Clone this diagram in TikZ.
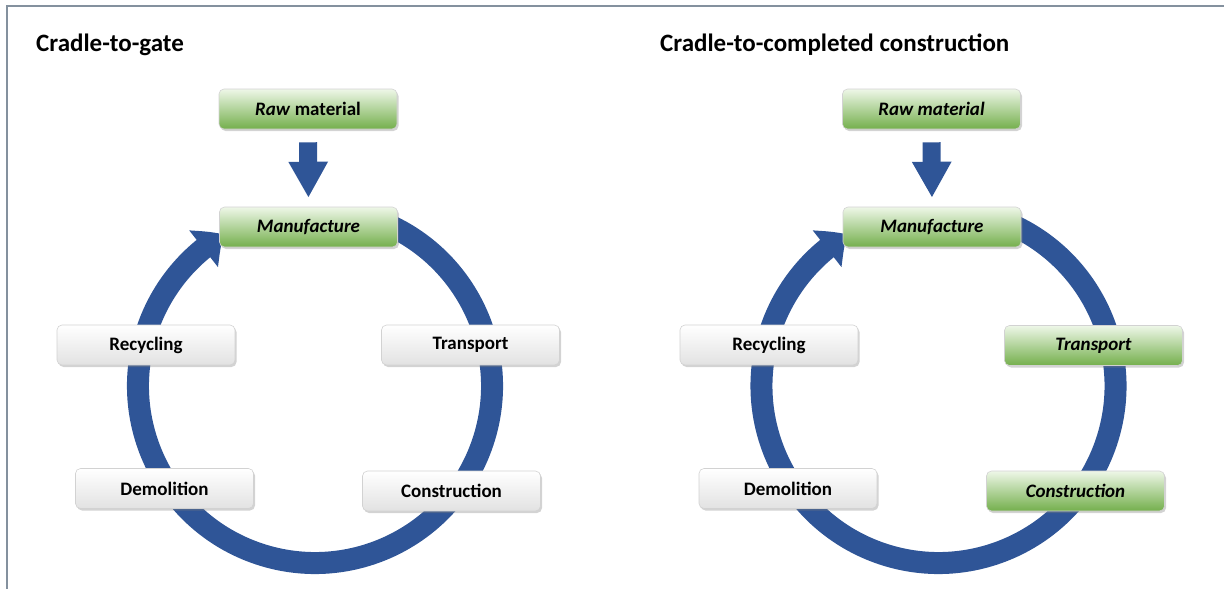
\documentclass[tikz,border=0pt]{standalone}
\usepackage{fontspec}
\setmainfont{Carlito}
\usetikzlibrary{arrows.meta,bending,shadows,calc}
\definecolor{ringblue}{RGB}{47,85,151}
\definecolor{framegrey}{RGB}{132,145,158}
\definecolor{greentop}{RGB}{238,247,232}
\definecolor{greenbot}{RGB}{116,175,76}
\definecolor{boxedge}{RGB}{210,210,210}
\definecolor{greybot}{RGB}{226,226,226}

\begin{document}
\begin{tikzpicture}[x=1pt,y=-1pt,
  stage/.style={draw=boxedge, line width=0.6pt, rounded corners=5pt,
    minimum width=178pt, minimum height=40pt, inner sep=0pt,
    font=\fontsize{19}{22}\selectfont\bfseries, text=black,
    drop shadow={shadow xshift=1.5pt, shadow yshift=-2pt, opacity=0.35}},
  plain/.style={stage, top color=white, bottom color=greybot},
  inscope/.style={stage, top color=greentop, bottom color=greenbot},
  heading/.style={anchor=base west, inner sep=0pt,
    font=\fontsize{25}{30}\selectfont\bfseries},
  ring/.style={draw=ringblue, line width=22pt,
    -{Triangle[width=45pt,length=25pt,bend]}},
  feed/.style={draw=ringblue, line width=18pt, shorten <=13pt, shorten >=9pt,
    -{Triangle[width=37pt,length=36pt]}}
]
\useasboundingbox (0,0) rectangle (1224,589);

% page frame (top and left edges)
\draw[framegrey, line width=2.5pt] (7,589) -- (7,6) -- (1224,6);

% centres of the two life-cycle rings
\coordinate (cA) at (315,386);
\coordinate (cB) at (938.5,386);

% life-cycle rings, ending with an arrow into Manufacture
\draw[ring] ($(cA)+(-70:177)$) arc[start angle=-70, end angle=239, radius=177];
\draw[ring] ($(cB)+(-70:177)$) arc[start angle=-70, end angle=239, radius=177];

% left panel: cradle-to-gate
\node[heading] (titleA) at (36,51) {Cradle-to-gate};
\node[inscope] (rawA) at (308,109) {\textit{Raw} material};
\node[inscope] (manA) at (308.5,227) {\textit{Manufacture}};
\node[plain] (recA) at (146,345) {Recycling};
\node[plain] (traA) at (470.5,345) {Transport};
\node[plain] (demA) at (164.5,488.5) {Demolition};
\node[plain] (conA) at (451.5,491) {Construction};
\draw[feed] (rawA.south) -- (manA.north);

% right panel: cradle-to-completed construction
\node[heading] (titleB) at (660,51) {Cradle-to-completed construction};
\node[inscope] (rawB) at (931.5,109) {\textit{Raw material}};
\node[inscope] (manB) at (932,227) {\textit{Manufacture}};
\node[plain] (recB) at (769,345) {Recycling};
\node[inscope] (traB) at (1093.5,345.5) {\textit{Transport}};
\node[plain] (demB) at (788,488.5) {Demolition};
\node[inscope] (conB) at (1075.5,491) {\textit{Construction}};
\draw[feed] (rawB.south) -- (manB.north);
\end{tikzpicture}
\end{document}
